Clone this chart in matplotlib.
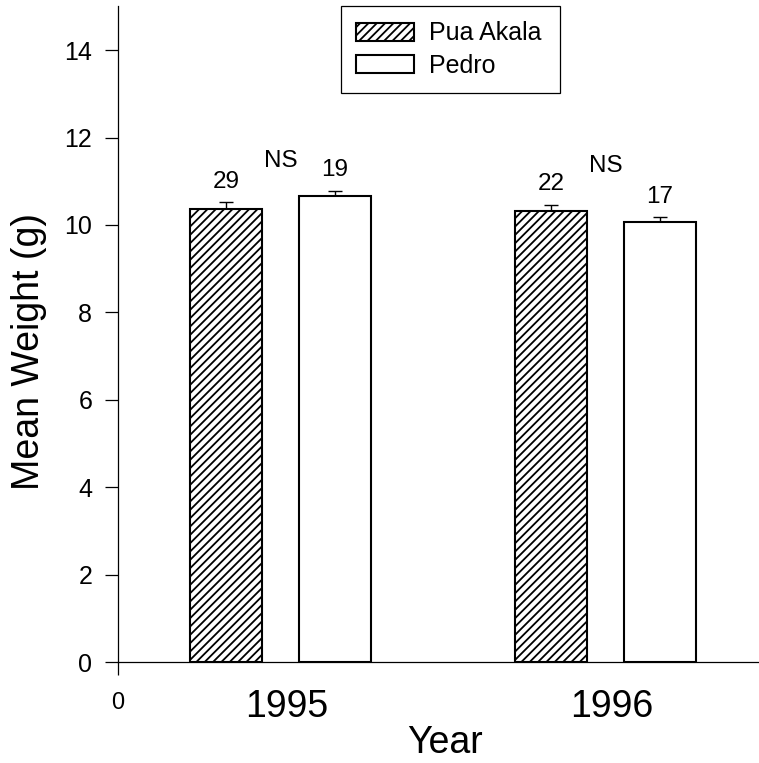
import numpy as np
import matplotlib
matplotlib.use("Agg")
import matplotlib.pyplot as plt
from matplotlib.transforms import blended_transform_factory

plt.rcParams['font.family'] = ['Liberation Sans', 'DejaVu Sans']
plt.rcParams['hatch.linewidth'] = 1.3

# ------------------------------------------
# Data
# ------------------------------------------

years = ["1995", "1996"]
groups = ["Pua Akala", "Pedro"]

mean_weight = {
    "Pua Akala": [10.36, 10.32],
    "Pedro": [10.66, 10.07],
}
sem = {
    "Pua Akala": [0.16, 0.14],
    "Pedro": [0.12, 0.11],
}
sample_n = {
    "Pua Akala": [29, 22],
    "Pedro": [19, 17],
}
sig_labels = ["NS", "NS"]
sig_heights = [11.33, 11.21]

group_x = np.array([1.0, 3.0])
offsets = {"Pua Akala": -0.335, "Pedro": 0.335}
hatches = {"Pua Akala": "////", "Pedro": ""}
bar_width = 0.44

# ------------------------------------------
# Figure
# ------------------------------------------

fig = plt.figure(figsize=(7.59, 7.63), dpi=100)
ax = fig.add_axes([118 / 759, 1 - 662 / 763, 650 / 759, 655.6 / 763])

handles = []
for name in groups:
    xs = group_x + offsets[name]
    b = ax.bar(xs, mean_weight[name], width=bar_width, color="white",
               edgecolor="black", linewidth=1.5, hatch=hatches[name],
               label=name, zorder=2)
    handles.append(b)
    ax.errorbar(xs, mean_weight[name],
                yerr=[np.zeros(len(xs)), sem[name]],
                fmt="none", ecolor="black", elinewidth=1.0,
                capsize=5, capthick=1.0, zorder=1)
    for x, m, e, n in zip(xs, mean_weight[name], sem[name], sample_n[name]):
        ax.text(x, m + e + 0.33, str(n), ha="center", va="baseline",
                fontsize=17.5)

for x, lab, h in zip(group_x, sig_labels, sig_heights):
    ax.text(x, h, lab, ha="center", va="baseline", fontsize=17.5)

# ------------------------------------------
# Axes styling
# ------------------------------------------

ax.set_xlim(0, 4)
ax.set_ylim(0, 15)
ax.set_yticks(np.arange(0, 15, 2))
ax.set_xticks([0])
ax.set_xticklabels(["0"])

for side in ["top", "right"]:
    ax.spines[side].set_visible(False)
for side in ["left", "bottom"]:
    ax.spines[side].set_linewidth(0.9)

ax.tick_params(axis="y", direction="out", length=9.5, width=0.9,
               pad=9, labelsize=18)
ax.tick_params(axis="x", direction="out", length=9.5, width=0.9,
               pad=12, labelsize=17)

# year labels under each group
trans = blended_transform_factory(ax.transData, ax.transAxes)
for x, yr in zip(group_x, years):
    ax.text(x + 0.04, -0.084, yr, transform=trans, ha="center",
            va="baseline", fontsize=27)

ax.text(0.503, -0.1385, "Year", transform=ax.transAxes, ha="center",
        va="baseline", fontsize=27)
ax.text(-0.137, 0.474, "Mean Weight (g)", transform=ax.transAxes,
        rotation=90, ha="center", va="center", fontsize=27)

leg = ax.legend(handles=handles, labels=groups, loc="upper left",
                bbox_to_anchor=((341 - 118) / 650, 1.0, 219 / 650, 0.0),
                mode="expand", borderaxespad=0, fontsize=18,
                handlelength=2.32, handleheight=0.72, handletextpad=0.6,
                labelspacing=0.34, borderpad=0.6, fancybox=False,
                framealpha=1, edgecolor="black")
leg.get_frame().set_linewidth(0.9)

fig.savefig("out.png", dpi=100)
